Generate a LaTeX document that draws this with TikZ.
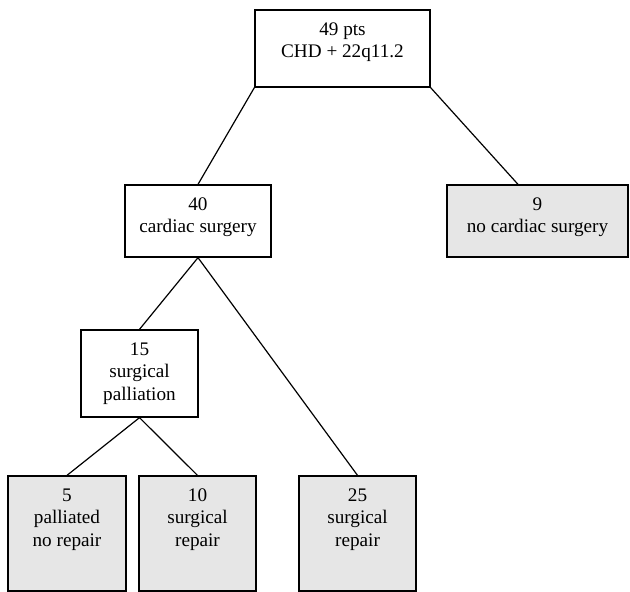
\documentclass[tikz,border=0pt]{standalone}
\usepackage{fontspec}
\setmainfont{Liberation Serif}
\usetikzlibrary{calc}
\definecolor{boxgray}{HTML}{E6E6E6}
\begin{document}
\begin{tikzpicture}[x=1pt,y=1pt,
  box/.style={draw=black, line width=1.3pt, rectangle, inner sep=0pt, minimum width=#1},
  box/.default=117pt,
  gray/.style={fill=boxgray},
  txt/.style={align=center, anchor=north, inner sep=0pt, yshift=-13pt,
    font=\fontsize{19.2}{22.5}\selectfont},
  conn/.style={line width=1.2pt}]
\useasboundingbox (0,0) rectangle (630,-592);
\node[box=175pt, minimum height=77pt, label={[txt]north:49 pts\\CHD + 22q11.2}] (top) at (342.5,-48.5) {};
\node[box=146pt, minimum height=72pt, label={[txt]north:40\\cardiac surgery}] (card) at (198,-221) {};
\node[box=181pt, gray, minimum height=72pt, label={[txt]north:9\\no cardiac surgery}] (nocard) at (537.5,-221) {};
\node[box=117pt, minimum height=87pt, label={[txt]north:15\\surgical\\palliation}] (pall) at (139.5,-373.5) {};
\node[box=118pt, gray, minimum height=115pt, label={[txt]north:5\\palliated\\no repair}] (b1) at (67,-533.5) {};
\node[box=117pt, gray, minimum height=115pt, label={[txt]north:10\\surgical\\repair}] (b2) at (197.5,-533.5) {};
\node[box=117pt, gray, minimum height=115pt, label={[txt]north:25\\surgical\\repair}] (b3) at (357.5,-533.5) {};
\coordinate (nocardin) at ($(nocard.north)+(-19.5,0)$);
\draw[conn] (top.south west) -- (card.north);
\draw[conn] (top.south east) -- (nocardin);
\draw[conn] (card.south) -- (pall.north);
\draw[conn] (card.south) -- (b3.north);
\draw[conn] (pall.south) -- (b1.north);
\draw[conn] (pall.south) -- (b2.north);
\end{tikzpicture}
\end{document}
